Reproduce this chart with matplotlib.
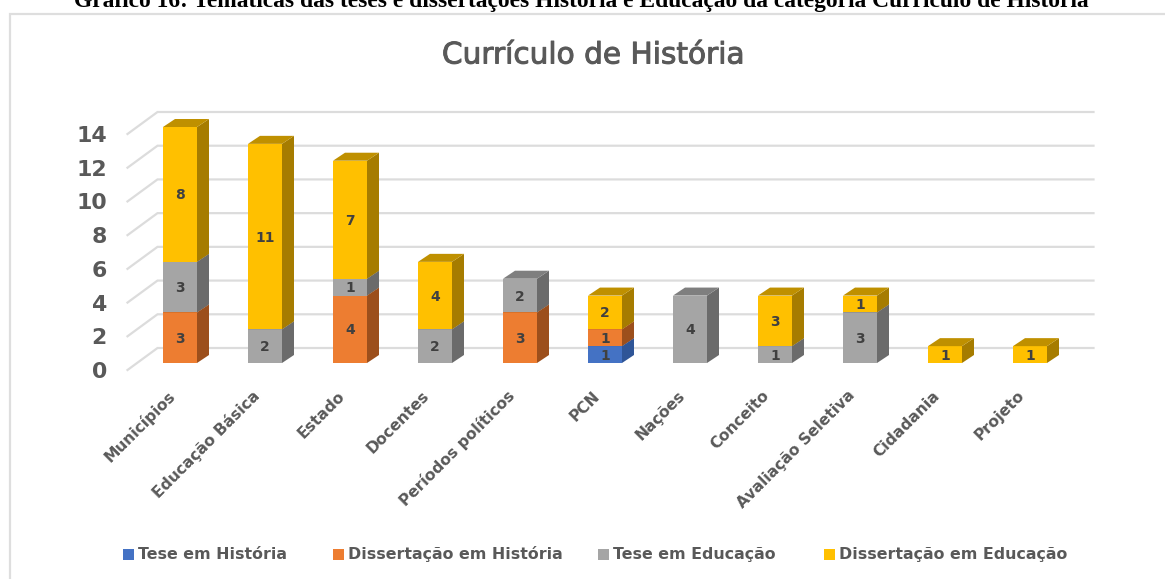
import matplotlib
matplotlib.use("Agg")
import matplotlib.pyplot as plt
from matplotlib.patches import Polygon, Rectangle
from matplotlib.transforms import ScaledTranslation
import matplotlib.patheffects as pe
import numpy as np

categories = ["Municípios", "Educação Básica", "Estado", "Docentes", "Períodos políticos",
              "PCN", "Nações", "Conceito", "Avaliação Seletiva", "Cidadania", "Projeto"]
tese_historia = [0, 0, 0, 0, 0, 1, 0, 0, 0, 0, 0]
diss_historia = [3, 0, 4, 0, 3, 1, 0, 0, 0, 0, 0]
tese_educacao = [3, 2, 1, 2, 2, 0, 4, 1, 3, 0, 0]
diss_educacao = [8, 11, 7, 4, 0, 2, 0, 3, 1, 1, 1]
series_names = ["Tese em História", "Dissertação em História", "Tese em Educação", "Dissertação em Educação"]
series_values = [tese_historia, diss_historia, tese_educacao, diss_educacao]
front_colors = ["#4472C4", "#ED7D31", "#A5A5A5", "#FFC000"]
side_colors = ["#2F5597", "#9C4F1C", "#6B6B6B", "#A67C00"]
top_colors = ["#3A62A8", "#BF6420", "#7F7F7F", "#BF9000"]
y_ticks = list(range(0, 16, 2))

W, H = 1165, 579
fig = plt.figure(figsize=(W / 100, H / 100), dpi=100, facecolor="white")
# caption and outer frame
fig.add_artist(Rectangle((9.5 / W, -0.1), 1.2, 0.1 + 1 - 14 / H, transform=fig.transFigure,
                         fill=False, ec="#DEDEDE", lw=1.6))
fig.text(581 / W, 1 - 6.5 / H, "Gráfico 16: Temáticas das teses e dissertações História e Educação da categoria Currículo de História",
         family="Liberation Serif", weight="bold", fontsize=16.9, color="black", ha="center", va="baseline")
fig.text(593.5 / W, 1 - 55 / H, "Currículo de História", family="DejaVu Sans", fontsize=21.3,
         color="#595959", ha="center", va="center",
         path_effects=[pe.withStroke(linewidth=0.7, foreground="#595959")])

L, R, B, T = 137.5, 1072.5, 363.0, 127.0
ax = fig.add_axes([L / W, 1 - B / H, (R - L) / W, (B - T) / H])
ax.set_xlim(-0.5, 10.5)
ax.set_ylim(0, 14)
ax.patch.set_alpha(0)
for s in ax.spines.values():
    s.set_visible(False)

px = 1 / 85.0      # data x per pixel
py = 14 / 236.0    # data y per pixel
dx, dy = 12 * px, 8 * py

# gridlines (front-left stub plus back wall)
for v in y_ticks:
    y0 = v - 7 * py
    y1 = v + 15 * py
    x0, x1, x2 = -0.5 - 10 * px, -0.5 + 20 * px, 10.5 + 21 * px
    ax.plot([x0, x1, x2], [y0, y1, y1], color="#DCDCDC", lw=1.6, clip_on=False, zorder=1,
            solid_joinstyle="miter")

w = 34 * px
x = np.arange(len(categories))
bottom = np.zeros(len(categories))
for vals, name, fc, sc, tc in zip(series_values, series_names, front_colors, side_colors, top_colors):
    vals = np.array(vals, dtype=float)
    ax.bar(x, vals, width=w, bottom=bottom, color=fc, zorder=3, clip_on=False, label=name, linewidth=0)
    for xi, b, v in zip(x, bottom, vals):
        if v <= 0:
            continue
        r = xi + w / 2
        l = xi - w / 2
        t = b + v
        ax.add_patch(Polygon([(r, b), (r + dx, b + dy), (r + dx, t + dy), (r, t)], closed=True,
                             fc=sc, ec="none", zorder=3, clip_on=False))
        ax.add_patch(Polygon([(l, t), (l + dx, t + dy), (r + dx, t + dy), (r, t)], closed=True,
                             fc=tc, ec="none", zorder=3, clip_on=False))
        ax.text(xi, b + v / 2 - 1 * py, f"{int(v)}", ha="center", va="center", family="DejaVu Sans",
                weight="bold", fontsize=10, color="#404040", zorder=5)
    bottom += vals

ax.set_yticks(y_ticks)
ax.set_yticklabels([str(v) for v in y_ticks], family="DejaVu Sans", weight="bold", fontsize=15.8, color="#595959")
ax.set_xticks(x)
ax.set_xticklabels(categories, rotation=45, ha="right", rotation_mode="anchor",
                   family="DejaVu Sans", weight="bold", fontsize=11.2, color="#595959")
ax.tick_params(axis="both", length=0)
ax.tick_params(axis="y", pad=22)
ax.tick_params(axis="x", pad=18)
for lab in ax.get_yticklabels():
    lab.set_va("center")
    lab.set_transform(lab.get_transform() + ScaledTranslation(0, -9 / 100, fig.dpi_scale_trans))
for lab in ax.get_xticklabels():
    lab.set_transform(lab.get_transform() + ScaledTranslation(-13 / 100, 0, fig.dpi_scale_trans))

# legend
leg_x = [123, 333, 598, 824]
for lx, name, fc in zip(leg_x, series_names, front_colors):
    fig.add_artist(Rectangle((lx / W, 1 - 560 / H), 11 / W, 11 / H, transform=fig.transFigure, fc=fc, ec="none"))
    fig.text((lx + 15) / W, 1 - 559 / H, name, family="DejaVu Sans", weight="bold", fontsize=11.4,
             color="#595959", ha="left", va="baseline")

fig.savefig("out.png", dpi=100)
